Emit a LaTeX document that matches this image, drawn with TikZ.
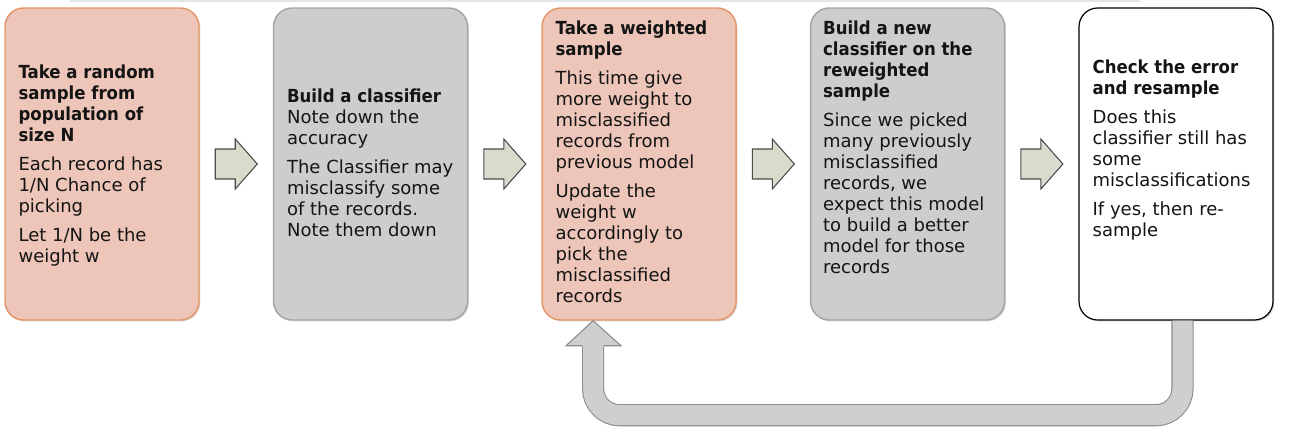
\documentclass[tikz,border=0pt]{standalone}
\usepackage{fontspec}
\setmainfont{DejaVu Sans}[BoldFeatures={FakeStretch=0.92}]
\usepackage{tikz}
\usetikzlibrary{positioning, calc, shadows}

\definecolor{peachfill}{RGB}{237,198,185}
\definecolor{peachline}{RGB}{228,150,105}
\definecolor{greyfill}{RGB}{207,205,204}
\definecolor{greyline}{RGB}{168,164,164}
\definecolor{arrowfill}{RGB}{217,219,205}
\definecolor{arrowline}{RGB}{75,75,75}
\definecolor{loopfill}{RGB}{207,207,207}
\definecolor{loopline}{RGB}{140,140,140}
\definecolor{inkcol}{RGB}{20,20,20}

\tikzset{
    stage/.style={rounded corners=14pt, minimum width=145.5pt, minimum height=234pt, line width=1.1pt,
        drop shadow={shadow xshift=1pt, shadow yshift=-1pt, opacity=0.3}},
    stagepeach/.style={stage, fill=peachfill, draw=peachline},
    stagegrey/.style={stage, fill=greyfill, draw=greyline},
    stagewhite/.style={stage, fill=white, draw=black, line width=0.9pt},
    txt/.style={anchor=north west, inner sep=0pt, align=left, text=inkcol,
        font=\fontsize{13.5pt}{15.75pt}\selectfont},
    steparrow/.style={fill=arrowfill, draw=arrowline, line width=0.8pt, line join=miter},
    loopshaft/.style={draw=loopline, line width=0.8pt, double=loopfill, double distance=15pt, rounded corners=20pt},
    loophead/.style={fill=loopfill, draw=loopline, line width=0.8pt, line join=miter},
    topline/.style={draw=black!10, line width=2pt}
}

\begin{document}
\begin{tikzpicture}[x=0.75pt, y=-0.75pt]
    \useasboundingbox (0,0) rectangle (1292,436);

    % faint rule along the top edge
    \draw[topline] (70,1) -- (1140,1);

    % the five stages
    \node[stagepeach] (b1) at (102,164) {};
    \node[stagegrey, right=54.8pt of b1] (b2) {};
    \node[stagepeach, right=54.8pt of b2] (b3) {};
    \node[stagegrey, right=54.8pt of b3] (b4) {};
    \node[stagewhite, right=54.8pt of b4] (b5) {};

    \node[txt] (t1) at ($(b1.north west)+(14,57)$) {\textbf{Take a random}\\ \textbf{sample from}\\ \textbf{population of}\\ \textbf{size N}\\[6pt]
        Each record has\\ 1/N Chance of\\ picking\\[6pt]
        Let 1/N be the\\ weight w};
    \node[txt] (t2) at ($(b2.north west)+(14,81)$) {\textbf{Build a classifier}\\ Note down the\\ accuracy\\[6pt]
        The Classifier may\\ misclassify some\\ of the records.\\ Note them down};
    \node[txt] (t3) at ($(b3.north west)+(14,13)$) {\textbf{Take a weighted}\\ \textbf{sample}\\[6pt]
        This time give\\ more weight to\\ misclassified\\ records from\\ previous model\\[6pt]
        Update the\\ weight w\\ accordingly to\\ pick the\\ misclassified\\ records};
    \node[txt] (t4) at ($(b4.north west)+(13,13)$) {\textbf{Build a new}\\ \textbf{classifier on the}\\ \textbf{reweighted}\\ \textbf{sample}\\[6pt]
        Since we picked\\ many previously\\ misclassified\\ records, we\\ expect this model\\ to build a better\\ model for those\\ records};
    \node[txt] (t5) at ($(b5.north west)+(14,52)$) {\textbf{Check the error}\\ \textbf{and resample}\\[6pt]
        Does this\\ classifier still has\\ some\\ misclassifications\\[6pt]
        If yes, then re-\\ sample};

    % block arrows between the stages
    \foreach \a/\b in {b1/b2, b2/b3, b3/b4, b4/b5}
        \draw[steparrow] ($(\a.east)!0.5!(\b.west)+(-21,-15)$) -- ++(20,0) -- ++(0,-10) -- ++(22,25)
            -- ++(-22,25) -- ++(0,-10) -- ++(-20,0) -- cycle;

    % resample loop back to the weighted sample
    \draw[loopshaft] ($(b5.south)+(6.5,0)$) |- ($(b3.south)+(-46,94.5)$) -- ($(b3.south)+(-46,22)$);
    \filldraw[loophead] ($(b3.south)+(-35,25)$) -- ++(17,0) -- ($(b3.south)+(-46,0)$)
        -- ($(b3.south)+(-73,25)$) -- ++(16,0);
\end{tikzpicture}
\end{document}
